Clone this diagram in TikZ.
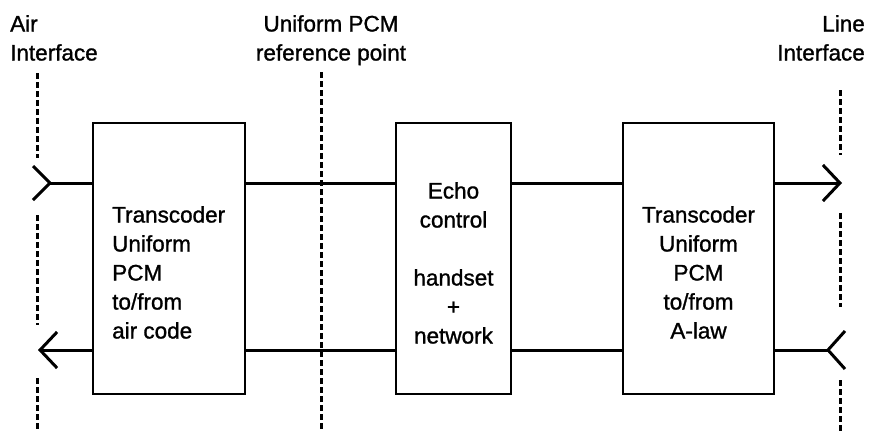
\documentclass[tikz,border=0pt]{standalone}
\usepackage{fontspec}
\setmainfont{Liberation Sans}[UprightFeatures={FakeBold=1.2}]
\usetikzlibrary{arrows.meta,calc}

\tikzset{
  blockbox/.style={draw, line width=2.6pt, inner sep=0pt},
  txt/.style={inner sep=0pt, font=\fontsize{22.5}{29}\selectfont},
  conn/.style={line width=3pt, line cap=butt},
  barb/.style={-{Straight Barb[length=17pt, width=36pt, line width=3pt]}},
  refline/.style={line width=3pt, dash pattern=on 6pt off 3pt},
}

\begin{document}
\begin{tikzpicture}[x=1pt, y=-1pt]
\useasboundingbox (0,0) rectangle (869,431);

% interface labels
\node[txt, align=left, anchor=north west] (airlbl) at (10,15) {Air\\Interface};
\node[txt, align=center, anchor=north] (pcmlbl) at (331,15) {Uniform PCM\\reference point};
\node[txt, align=right, anchor=north east] (linelbl) at (865,15) {Line\\Interface};

% reference points (dashed)
\draw[refline] (37,73) -- (37,158);
\draw[refline] (37,215) -- (37,325);
\draw[refline] (37,378) -- (37,431);
\draw[refline] (321,72) -- (321,431);
\draw[refline] (840,90) -- (840,155);
\draw[refline] (840,213) -- (840,307);
\draw[refline] (840,380) -- (840,431);

% processing blocks
\node[blockbox, minimum width=152pt, minimum height=271pt] (A) at (169,258.5) {};
\node[blockbox, minimum width=115pt, minimum height=271pt] (B) at (453.5,258.5) {};
\node[blockbox, minimum width=151pt, minimum height=271pt] (C) at (698.5,258.5) {};

\node[txt, align=left, anchor=north west] (Atxt) at (112,206)
  {Transcoder\\Uniform\\PCM\\to/from\\air code};
\node[txt, align=center, anchor=north] (Btxt) at (453.5,182)
  {Echo\\control\\[29pt]handset\\+\\network};
\node[txt, align=center, anchor=north] (Ctxt) at (698.5,206)
  {Transcoder\\Uniform\\PCM\\to/from\\A-law};

% signal path end points
\coordinate (aIn) at (50,183);
\coordinate (aOut) at (38,350);
\coordinate (lOut) at (842,183);
\coordinate (lIn) at (828,350);

% upper path: air -> line
\draw[conn] (aIn) -- (A.west |- aIn);
\draw[conn, line join=miter] ($(aIn)+(-17,-17)$) -- (aIn) -- ($(aIn)+(-17,17)$);
\draw[conn] (A.east |- aIn) -- (B.west |- aIn);
\draw[conn] (B.east |- aIn) -- (C.west |- aIn);
\draw[conn, barb] (C.east |- lOut) -- (lOut);

% lower path: line -> air
\draw[conn] (lIn) -- (C.east |- lIn);
\draw[conn, line join=miter] ($(lIn)+(17,-19)$) -- (lIn) -- ($(lIn)+(17,19)$);
\draw[conn] (C.west |- lIn) -- (B.east |- lIn);
\draw[conn] (B.west |- lIn) -- (A.east |- lIn);
\draw[conn, barb] (A.west |- aOut) -- (aOut);
\end{tikzpicture}
\end{document}
